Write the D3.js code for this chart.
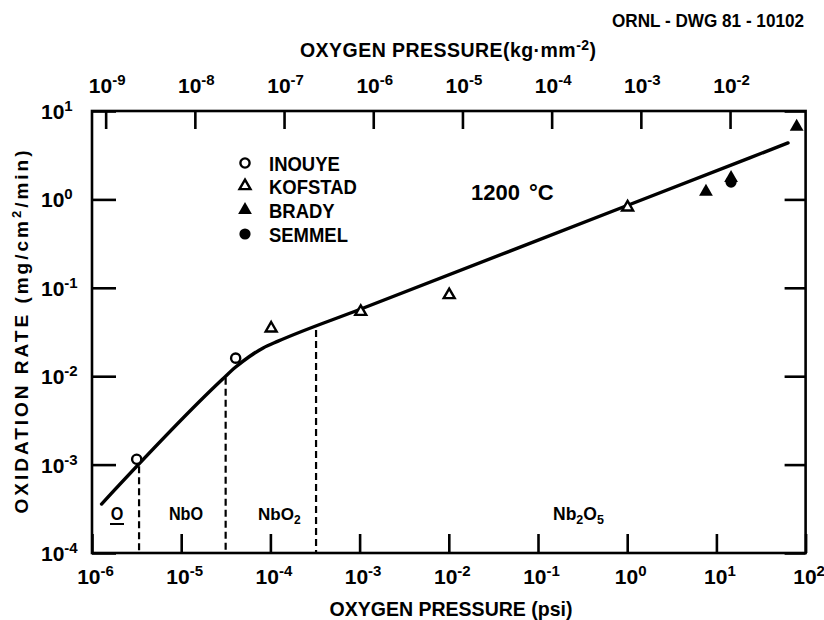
<!DOCTYPE html>
<html>
<head>
<meta charset="utf-8">
<script src="https://cdn.jsdelivr.net/npm/d3@7"></script>
<style>
  html, body { margin: 0; padding: 0; background: #fff; }
  svg text { font-family: "Liberation Sans", Arial, Helvetica, sans-serif; font-weight: bold; fill: #000; }
</style>
</head>
<body>
<svg id="chart" width="824" height="620"></svg>
<script>
// Oxidation rate of niobium at 1200 °C as a function of oxygen pressure.

// Axis ticks (value, exponent shown in the label)
const psiTicks = [1e-6, 1e-5, 1e-4, 1e-3, 1e-2, 1e-1, 1e0, 1e1, 1e2];
const psiTickExps = ["-6", "-5", "-4", "-3", "-2", "-1", "0", "1", "2"];
const kgTicks = [1e-9, 1e-8, 1e-7, 1e-6, 1e-5, 1e-4, 1e-3, 1e-2];
const kgTickExps = ["-9", "-8", "-7", "-6", "-5", "-4", "-3", "-2"];
const rateTicks = [1e-4, 1e-3, 1e-2, 1e-1, 1e0, 1e1];
const rateTickExps = ["-4", "-3", "-2", "-1", "0", "1"];

// 1 kg/mm² expressed in psi
const PSI_PER_KG_MM2 = 1422.33;

// Measurements: [pressure (psi), rate (mg/cm²/min)]
const inouye  = [[3.17e-6, 1.15e-3], [4.08e-5, 0.0160]];
const kofstad = [[1.02e-4, 0.0348], [1.03e-3, 0.0537], [1.01e-2, 0.083], [1.01, 0.814]];
const brady   = [[7.64, 1.22], [14.6, 1.75], [79.4, 6.64]];
const semmel  = [[14.6, 1.57]];

// Fitted rate curve
const fitCurve = [[1.28e-6, 3.58e-4], [2.86e-5, 9.1e-3], [4.05e-5, 0.0126], [5.77e-5, 0.0166],
                  [8.3e-5, 0.0209], [1.22e-4, 0.0249], [1e-3, 0.0568], [1.0, 0.853], [63.5, 4.35]];

// Oxide phase boundaries: [pressure (psi), rate where the boundary meets the curve]
const phaseBounds = [[3.37e-6, 9.6e-4], [3.15e-5, 9.6e-3], [3.25e-4, 0.0333]];

// Legend entries
const legendNames = ["INOUYE", "KOFSTAD", "BRADY", "SEMMEL"];

const svg = d3.select("#chart");
const X0 = 92, X1 = 805.6, Y0 = 553, Y1 = 111;

const x = d3.scaleLog().domain([1e-6, 1e2]).range([X0, X1]);
const xKg = d3.scaleLog().domain([1e-6 / PSI_PER_KG_MM2, 1e2 / PSI_PER_KG_MM2]).range([X0, X1]);
const y = d3.scaleLog().domain([1e-4, 1e1]).range([Y0, Y1]);

const AXW = 2.6;

// narrow the lettering by squeezing glyphs horizontally
function condense(sel, f) {
  sel.each(function () {
    const len = this.getComputedTextLength();
    d3.select(this).attr("textLength", len * f).attr("lengthAdjust", "spacingAndGlyphs");
  });
}

// exponent label helper: "10" with a raised exponent
function powerLabel(sel, exps, supDy) {
  sel.append("tspan").text("10");
  sel.append("tspan").attr("dy", supDy).attr("font-size", 15).text((d, i) => exps[i]);
}

// bottom axis (psi)
const gB = svg.append("g").attr("transform", `translate(0,${Y0})`)
  .call(d3.axisBottom(x).tickValues(psiTicks).tickSizeInner(-19).tickSizeOuter(0).tickFormat(""));
gB.select(".domain").remove();
gB.selectAll(".tick line").attr("stroke", "#000").attr("stroke-width", AXW);
gB.selectAll(".tick").append("text")
  .attr("x", 3).attr("y", 31).attr("text-anchor", "middle").attr("font-size", 21)
  .call(powerLabel, psiTickExps, -8);

// top axis (kg/mm²)
const gT = svg.append("g").attr("transform", `translate(0,${Y1})`)
  .call(d3.axisTop(xKg).tickValues(kgTicks).tickSizeInner(-18).tickSizeOuter(0).tickFormat(""));
gT.select(".domain").remove();
gT.selectAll(".tick line").attr("stroke", "#000").attr("stroke-width", AXW);
gT.selectAll(".tick").append("text")
  .attr("x", 1).attr("y", -18).attr("text-anchor", "middle").attr("font-size", 21)
  .call(powerLabel, kgTickExps, -8);

// left axis (rate)
const gL = svg.append("g").attr("transform", `translate(${X0},0)`)
  .call(d3.axisLeft(y).tickValues(rateTicks).tickSizeInner(-24).tickSizeOuter(0).tickFormat(""));
gL.select(".domain").remove();
gL.selectAll(".tick line").attr("stroke", "#000").attr("stroke-width", AXW);
gL.selectAll(".tick").append("text")
  .attr("x", 41 - X0).attr("y", 7.5).attr("text-anchor", "start").attr("font-size", 21)
  .call(powerLabel, rateTickExps, -8);

// right axis ticks
const gR = svg.append("g").attr("transform", `translate(${X1},0)`)
  .call(d3.axisRight(y).tickValues(rateTicks).tickSizeInner(-21).tickSizeOuter(0).tickFormat(""));
gR.select(".domain").remove();
gR.selectAll(".tick line").attr("stroke", "#000").attr("stroke-width", AXW);

// frame
svg.append("rect").attr("x", X0).attr("y", Y1).attr("width", X1 - X0).attr("height", Y0 - Y1)
  .attr("fill", "none").attr("stroke", "#000").attr("stroke-width", AXW);

// phase boundaries
svg.append("g").selectAll("line").data(phaseBounds).join("line")
  .attr("x1", d => x(d[0])).attr("x2", d => x(d[0]))
  .attr("y1", d => y(d[1])).attr("y2", Y0)
  .attr("stroke", "#000").attr("stroke-width", 2.2).attr("stroke-dasharray", "7,4");

// fitted curve
svg.append("path").datum(fitCurve)
  .attr("d", d3.line().x(d => x(d[0])).y(d => y(d[1])).curve(d3.curveMonotoneX))
  .attr("fill", "none").attr("stroke", "#000").attr("stroke-width", 3.4).attr("stroke-linecap", "round");

// markers
const openTri = d3.symbol().type(d3.symbolTriangle).size(52)();
const fillTri = d3.symbol().type(d3.symbolTriangle).size(82)();

svg.append("g").selectAll("circle").data(inouye).join("circle")
  .attr("cx", d => x(d[0])).attr("cy", d => y(d[1])).attr("r", 4.6)
  .attr("fill", "#fff").attr("stroke", "#000").attr("stroke-width", 2.4);
svg.append("g").selectAll("path").data(kofstad).join("path")
  .attr("d", openTri).attr("transform", d => `translate(${x(d[0])},${y(d[1])})`)
  .attr("fill", "#fff").attr("stroke", "#000").attr("stroke-width", 2.4).attr("stroke-linejoin", "miter");
svg.append("g").selectAll("circle").data(semmel).join("circle")
  .attr("cx", d => x(d[0])).attr("cy", d => y(d[1])).attr("r", 5.6).attr("fill", "#000");
svg.append("g").selectAll("path").data(brady).join("path")
  .attr("d", fillTri).attr("transform", d => `translate(${x(d[0])},${y(d[1])})`)
  .attr("fill", "#000");

// legend
const legend = svg.append("g");
const legendMarks = [
  g => g.append("circle").attr("r", 4.6).attr("fill", "#fff").attr("stroke", "#000").attr("stroke-width", 2.4),
  g => g.append("path").attr("d", openTri).attr("fill", "#fff").attr("stroke", "#000").attr("stroke-width", 2.4),
  g => g.append("path").attr("d", fillTri).attr("fill", "#000"),
  g => g.append("circle").attr("r", 5.6).attr("fill", "#000")
];
const legendY = [163, 186, 210, 234];
legendNames.forEach((name, i) => {
  const row = legend.append("g").attr("transform", `translate(245,${legendY[i]})`);
  legendMarks[i](row);
  legend.append("text").attr("x", 269).attr("y", legendY[i] + 7.5).attr("font-size", 20.5).text(name)
    .call(condense, 0.9);
});

// temperature label
svg.append("text").attr("x", 471).attr("y", 199.5).attr("font-size", 22)
  .call(t => { t.append("tspan").text("1200"); t.append("tspan").attr("x", 529).text("°C"); });

// phase labels
svg.append("text").attr("x", 117).attr("y", 519.5).attr("text-anchor", "middle").attr("font-size", 18).text("O")
  .call(condense, 0.9);
svg.append("line").attr("x1", 110).attr("x2", 124).attr("y1", 524).attr("y2", 524)
  .attr("stroke", "#000").attr("stroke-width", 2);
svg.append("text").attr("x", 186).attr("y", 519.5).attr("text-anchor", "middle").attr("font-size", 18).text("NbO")
  .call(condense, 0.9);
svg.append("text").attr("x", 258).attr("y", 519.5).attr("font-size", 17)
  .call(t => { t.append("tspan").text("NbO"); t.append("tspan").attr("dy", 4).attr("font-size", 12).text("2"); });
svg.append("text").attr("x", 553).attr("y", 520).attr("font-size", 17.5)
  .call(t => {
    t.append("tspan").text("Nb");
    t.append("tspan").attr("dy", 4).attr("font-size", 12.5).text("2");
    t.append("tspan").attr("dy", -4).text("O");
    t.append("tspan").attr("dy", 4).attr("font-size", 12.5).text("5");
  });

// axis titles
svg.append("text").attr("x", 451).attr("y", 616).attr("text-anchor", "middle").attr("font-size", 21)
  .attr("textLength", 243).attr("lengthAdjust", "spacingAndGlyphs").text("OXYGEN PRESSURE (psi)");

svg.append("text").attr("x", 300).attr("y", 57).attr("font-size", 19.5)
  .attr("textLength", 296).attr("lengthAdjust", "spacing")
  .call(t => {
    t.append("tspan").text("OXYGEN PRESSURE(kg·mm");
    t.append("tspan").attr("dy", -7).attr("font-size", 14).text("-2");
    t.append("tspan").attr("dy", 7).text(")");
  });

svg.append("text").attr("transform", "translate(28,332) rotate(-90)").attr("text-anchor", "middle")
  .attr("font-size", 19).attr("textLength", 363).attr("lengthAdjust", "spacing")
  .call(t => {
    t.append("tspan").text("OXIDATION RATE (mg/cm");
    t.append("tspan").attr("dy", -7).attr("font-size", 13).text("2");
    t.append("tspan").attr("dy", 7).text("/min)");
  });

// drawing number
svg.append("text").attr("x", 804).attr("y", 27).attr("text-anchor", "end").attr("font-size", 18.5)
  .attr("textLength", 192).attr("lengthAdjust", "spacingAndGlyphs")
  .text("ORNL - DWG 81 - 10102");
</script>
</body>
</html>
